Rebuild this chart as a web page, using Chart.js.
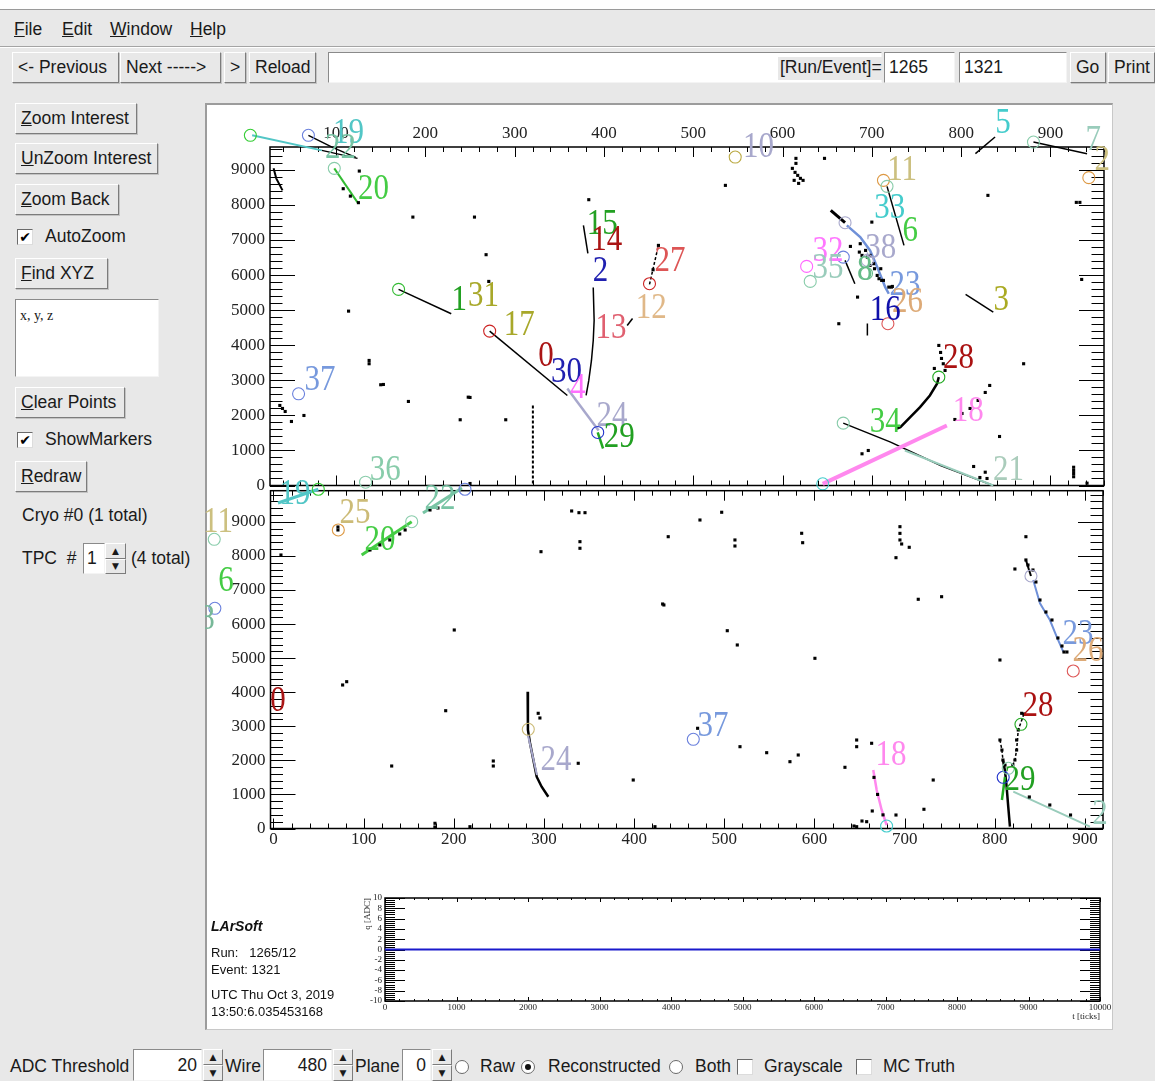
<!DOCTYPE html>
<html>
<head>
<meta charset="utf-8">
<title>LArSoft event display</title>
<script src="https://cdn.jsdelivr.net/npm/chart.js@4.4.1/dist/chart.umd.min.js"></script>
<style>
  html, body { margin: 0; padding: 0; }
  body { width: 1155px; height: 1081px; position: relative; overflow: hidden;
         background: #e8e8e8; font-family: "Liberation Sans", Arial, sans-serif; font-size: 17.5px; color: #1a1a1a; }
  .abs { position: absolute; }
  .txt { position: absolute; white-space: pre; line-height: 1; }
  .btn { position: absolute; box-sizing: border-box; height: 31px; background: #e8e8e8;
         border: 1px solid; border-color: #fff #7c7c7c #7c7c7c #fff; box-shadow: 1px 1px 0 #c4c4c4;
         display: flex; align-items: center; padding: 0 5px; white-space: pre; }
  .field { position: absolute; box-sizing: border-box; background: #fff; border: 1px solid;
           border-color: #8a8a8a #f4f4f4 #f4f4f4 #8a8a8a; display: flex; align-items: center; padding: 0 4px; white-space: pre; }
  .chk { position: absolute; box-sizing: border-box; width: 16px; height: 16px; background: #fff; border: 1px solid;
         border-color: #6a6a6a #dcdcdc #dcdcdc #6a6a6a; font: bold 14px "DejaVu Sans"; line-height: 14px; text-align: center; color: #000; }
  .radio { position: absolute; box-sizing: border-box; width: 14px; height: 14px; border-radius: 50%; background: #fff;
           border: 1px solid #6a6a6a; }
  .radio.on::after { content: ""; position: absolute; left: 3px; top: 3px; width: 6px; height: 6px; border-radius: 50%; background: #111; }
  .spin { position: absolute; box-sizing: border-box; display: flex; flex-direction: column; font: 9px "DejaVu Sans"; }
  .spin span { flex: 1; display: flex; align-items: center; justify-content: center; border: 1px solid;
               border-color: #fff #7c7c7c #7c7c7c #fff; background: #e8e8e8; }
  #pad { position: absolute; left: 205px; top: 103px; width: 908px; height: 927px; box-sizing: border-box;
         background: #fff; border-left: 2px solid #9c9c9c; border-top: 2px solid #9c9c9c; border-right: 1px solid #c8c8c8; border-bottom: 1px solid #c8c8c8; }
  canvas { position: absolute; left: 205px; top: 103px; }
  .info { position: absolute; left: 211px; white-space: pre; line-height: 1; font-size: 13px; color: #111; }
</style>
</head>
<body>

<!-- menu + navigation -->
<div class="abs" style="left:0;top:0;width:1155px;height:9px;background:#fff;border-bottom:1px solid #9a9a9a"></div>
<div class="txt" style="left:14px;top:21px"><u>F</u>ile</div>
<div class="txt" style="left:62px;top:21px"><u>E</u>dit</div>
<div class="txt" style="left:110px;top:21px"><u>W</u>indow</div>
<div class="txt" style="left:190px;top:21px"><u>H</u>elp</div>
<div class="abs" style="left:0;top:46px;width:1155px;border-top:1px solid #a4a4a4;border-bottom:1px solid #fff"></div>

<div class="btn" style="left:12px;top:52px;width:107px">&lt;- Previous</div>
<div class="btn" style="left:120px;top:52px;width:101px">Next -----&gt;</div>
<div class="btn" style="left:224px;top:52px;width:22px">&gt;</div>
<div class="btn" style="left:249px;top:52px;width:67px">Reload</div>
<div class="field" style="left:328px;top:52px;width:554px;height:31px"></div>
<div class="txt" style="left:778px;top:57px;height:21px;padding:2px 2px 0 2px;background:#e8e8e8">[Run/Event]=</div>
<div class="field" style="left:884px;top:52px;width:71px;height:31px">1265</div>
<div class="field" style="left:959px;top:52px;width:108px;height:31px">1321</div>
<div class="btn" style="left:1070px;top:52px;width:36px">Go</div>
<div class="btn" style="left:1108px;top:52px;width:47px">Print</div>

<!-- left control panel -->
<div class="btn" style="left:15px;top:103px;width:122px"><u>Z</u>oom Interest</div>
<div class="btn" style="left:15px;top:143px;width:143px"><u>U</u>nZoom Interest</div>
<div class="btn" style="left:15px;top:184px;width:104px"><u>Z</u>oom Back</div>
<div class="chk" style="left:17px;top:229px">✔</div>
<div class="txt" style="left:45px;top:228px">AutoZoom</div>
<div class="btn" style="left:15px;top:258px;width:93px"><u>F</u>ind XYZ</div>
<div class="field" style="left:15px;top:299px;width:144px;height:78px;align-items:flex-start;padding-top:8px;font:14px 'Liberation Serif',serif">x, y, z</div>
<div class="btn" style="left:15px;top:387px;width:110px"><u>C</u>lear Points</div>
<div class="chk" style="left:17px;top:432px">✔</div>
<div class="txt" style="left:45px;top:431px">ShowMarkers</div>
<div class="btn" style="left:15px;top:461px;width:72px"><u>R</u>edraw</div>
<div class="txt" style="left:22px;top:507px">Cryo #0 (1 total)</div>
<div class="txt" style="left:22px;top:550px">TPC  #</div>
<div class="field" style="left:83px;top:543px;width:22px;height:31px;padding:0 3px">1</div>
<div class="spin" style="left:105px;top:543px;width:21px;height:31px"><span>▲</span><span>▼</span></div>
<div class="txt" style="left:131px;top:550px">(4 total)</div>

<!-- drawing pad -->
<div id="pad"></div>
<canvas id="cTop" width="908" height="927"></canvas>
<canvas id="cBot" width="908" height="927"></canvas>
<canvas id="cWave" width="908" height="927"></canvas>

<div class="info" style="top:919px;font-weight:bold;font-style:italic;font-size:14px">LArSoft</div>
<div class="info" style="top:946px">Run:   1265/12</div>
<div class="info" style="top:963px">Event: 1321</div>
<div class="info" style="top:988px">UTC Thu Oct 3, 2019</div>
<div class="info" style="top:1005px">13:50:6.035453168</div>

<!-- bottom bar -->
<div class="txt" style="left:10px;top:1058px">ADC Threshold</div>
<div class="field" style="left:133px;top:1049px;width:69px;height:32px;justify-content:flex-end">20</div>
<div class="spin" style="left:203px;top:1049px;width:20px;height:32px"><span>▲</span><span>▼</span></div>
<div class="txt" style="left:225px;top:1058px">Wire</div>
<div class="field" style="left:263px;top:1049px;width:69px;height:32px;justify-content:flex-end">480</div>
<div class="spin" style="left:333px;top:1049px;width:20px;height:32px"><span>▲</span><span>▼</span></div>
<div class="txt" style="left:355px;top:1058px">Plane</div>
<div class="field" style="left:402px;top:1049px;width:29px;height:32px;justify-content:flex-end">0</div>
<div class="spin" style="left:432px;top:1049px;width:20px;height:32px"><span>▲</span><span>▼</span></div>
<div class="radio" style="left:455px;top:1060px"></div>
<div class="txt" style="left:480px;top:1058px">Raw</div>
<div class="radio on" style="left:521px;top:1060px"></div>
<div class="txt" style="left:548px;top:1058px">Reconstructed</div>
<div class="radio" style="left:669px;top:1060px"></div>
<div class="txt" style="left:695px;top:1058px">Both</div>
<div class="chk" style="left:737px;top:1059px"></div>
<div class="txt" style="left:764px;top:1058px">Grayscale</div>
<div class="chk" style="left:856px;top:1059px"></div>
<div class="txt" style="left:883px;top:1058px">MC Truth</div>

<script>
// ---------------- axis tick labels ----------------
const topWireTicks = [100, 200, 300, 400, 500, 600, 700, 800, 900];
const topTimeTicks = [0, 1000, 2000, 3000, 4000, 5000, 6000, 7000, 8000, 9000];
const botWireTicks = [0, 100, 200, 300, 400, 500, 600, 700, 800, 900];
const botTimeTicks = [0, 1000, 2000, 3000, 4000, 5000, 6000, 7000, 8000, 9000];
const waveTimeTicks = [0, 1000, 2000, 3000, 4000, 5000, 6000, 7000, 8000, 9000, 10000];
const waveAdcTicks = [-10, -8, -6, -4, -2, 0, 2, 4, 6, 8, 10];

// ---------------- upper view (wire vs tick) ----------------
const topHitWire = [126, 186, 255, 268, 271, 114, 137, 137, 150, 153, 181, 248, 250, 239, 290, 64, 50, 383, 250, 536,
                    647, 615, 615, 611, 614, 617, 620, 623, 618, 613, 830, 933, 929, 935, 870, 843, 689, 696, 814, 827,
                    821, 829, 926, 926, 926, 926, 941, 676, 687, 693, 698, 702, 710, 708, 711, 719, 723, 700, 684, 663,
                    686, 689, 695, 698, 703, 706, 713, 722, 793, 801, 810, 819, 827, 832, 775, 777, 778, 780, 770, 782,
                    108, 116, 125, 37, 40, 43, 461, 455];
const topHitTick = [8964, 7652, 7652, 6580, 5818, 4971, 3471, 3565, 2872, 2880, 2396, 2518, 2510, 1874, 1874, 1996, 1825, 8148, 57, 8556,
                    9326, 9326, 9183, 9041, 8927, 8841, 8756, 8699, 8613, 8699, 8271, 8071, 8071, 5875, 3471, 1397, 904, 998, 542, 379,
                    228, 200, 520, 430, 340, 250, 66, 6816, 6893, 6702, 6560, 6323, 6180, 5895, 5847, 5656, 5675, 7509, 5371, 4612,
                    6654, 6560, 6511, 6274, 6180, 5989, 5847, 5656, 1882, 2053, 2196, 2424, 2652, 2852, 3993, 3793, 3622, 3471, 3337, 3280,
                    8461, 8250, 8063, 2282, 2196, 2110, 6845, 6150];

// reconstructed tracks, upper view
const topTrkA_W = [30, 33, 40],          topTrkA_T = [9041, 8756, 8413];
const topTrk19_W = [6, 84],              topTrk19_T = [9983, 9554];
const topTrk19b_W = [84, 124],           topTrk19b_T = [9554, 9326];
const topTrk22_W = [69, 96, 122],        topTrk22_T = [9983, 9640, 9355];
const topTrk20_W = [98, 124],            topTrk20_T = [9041, 8071];
const topTrk131_W = [170, 229],          topTrk131_T = [5590, 4897];
const topTrk17_W = [272, 359],           topTrk17_T = [4401, 2567];
const topTrk24_W = [359, 394],           topTrk24_T = [2766, 1569];
const topTrk29_W = [393, 399],           topTrk29_T = [1512, 1055];
const topTrk2_W = [388, 389, 388, 386, 383, 380], topTrk2_T = [5647, 4706, 4135, 3565, 2995, 2567];
const topTrk14_W = [377, 382],           topTrk14_T = [7415, 6617];
const topTrk27_W = [451, 461],           topTrk27_T = [5733, 6845];
const topTrk12_W = [426, 432],           topTrk12_T = [4563, 4763];
const topTrk6_W = [717, 736],            topTrk6_T = [8528, 6845];
const topTrk5_W = [816, 838],            topTrk5_T = [9460, 9934];
const topTrk7_W = [881, 941],            topTrk7_T = [9791, 9460];
const topTrk3_W = [805, 836],            topTrk3_T = [5447, 4943];
const topTrk38_W = [654, 670],           topTrk38_T = [7843, 7492];
const topTrk23_W = [672, 687, 698, 706, 715, 719], topTrk23_T = [7415, 7081, 6702, 6226, 5656, 5467];
const topTrk8_W = [670, 681],            topTrk8_T = [6417, 5752];
const topTrk16_W = [695, 695],           topTrk16_T = [4620, 4278];
const topTrk28_W = [775, 773, 765, 754, 743, 732, 728], topTrk28_T = [3089, 2900, 2567, 2233, 1948, 1663, 1626];
const topTrk34_W = [668, 721, 777, 836], topTrk34_T = [1777, 1235, 570, 0];
const topTrk21_W = [737, 836],           topTrk21_T = [998, 0];
const topTrk18_W = [645, 784],           topTrk18_T = [48, 1711];
const topTrkCol_W = [320.4, 320.4],      topTrkCol_T = [2282, 0];

// vertex markers, upper view
const topVtxWire = [4, 69, 98, 170, 272, 393, 451, 547, 713, 717, 881, 943, 670, 627, 631, 668, 695, 694, 718, 775, 668, 645, 133, 58];
const topVtxTick = [9983, 9983, 9041, 5590, 4401, 1512, 5752, 9363, 8699, 8528, 9791, 8776, 7492, 6246, 5818, 6511, 6417, 6046, 4612, 3089, 1777, 48, 94, 2615];

// track id labels, upper view
const topLblText = ['19', '22', '20', '1', '31', '17', '0', '30', '4', '24', '29', '2', '15', '14', '13', '27', '12', '10', '11',
                    '33', '6', '5', '7', '2', '38', '32', '35', '8', '23', '26', '16', '3', '28', '34', '18', '21', '36', '37'];
const topLblWire = [114, 105, 142, 238, 265, 305, 335, 358, 371, 409, 417, 396, 398, 403, 408, 474, 453, 573, 734,
                    720, 743, 847, 948, 958, 710, 651, 651, 692, 737, 740, 715, 845, 797, 715, 808, 853, 155, 82];
const topLblTick = [10039, 9611, 8442, 5276, 5390, 4563, 3679, 3223, 2766, 1968, 1369, 6103, 7444, 6987, 4478, 6388, 5048, 9640, 8984,
                    7900, 7244, 10324, 9839, 9269, 6759, 6674, 6189, 6132, 5704, 5219, 4991, 5276, 3622, 1797, 2110, 428, 428, 2995];

// ---------------- lower view ----------------
const botHitWire = [8.3, 71.5, 71.5, 330.7, 338.8, 345.5, 296.7, 339.9, 339.9, 200.5, 76.7, 81.2, 191, 131.1, 243.8, 243.8, 338, 293.6, 295.5, 179.1,
                    179, 217.9, 437.8, 473, 497.1, 511.8, 511.8, 585.8, 586.9, 694.8, 694.8, 694.8, 696.7, 705.1, 690.4, 431.6, 433, 503.3, 514.4, 600.5,
                    715.1, 741, 834.5, 822.3, 805.7, 399, 470.4, 517.4, 547, 572.8, 582, 633.8, 646.8, 646.8, 663.4, 731.7, 721.4, 690.4, 664.1, 657.9,
                    652.7, 646.8, 643.8, 423.1, 107, 118, 129, 140, 146, 173.6, 182.4, 834.5, 836.8, 842.3, 845.6, 850.1, 856.7, 863.4, 870, 874.5,
                    876.7, 880, 832.3, 829.8, 826, 824.2, 824.2, 822.3, 820, 805.7, 807.9, 809, 811.3, 838.3, 861, 884, 666, 670, 676];
const botHitTick = [8027, 8849, 8761, 9319, 9269, 9269, 8124, 8418, 8224, 5826, 4212, 4309, 3457, 1834, 1981, 1834, 1914, 3381, 3243, 153,
                    44, 53, 8564, 9054, 9281, 8468, 8291, 8664, 8388, 8858, 8662, 8468, 8350, 8253, 7948, 6589, 6560, 5805, 5386, 4995,
                    6727, 6803, 8564, 7616, 4945, 1423, 2941, 2401, 2225, 1961, 2157, 1796, 2597, 2401, 2501, 1423, 564, 396, 514, 200,
                    220, 53, 73, 53, 8174, 8321, 8468, 8644, 8761, 9348, 9407, 7881, 7733, 7587, 7235, 6706, 6354, 6119, 5591, 5356,
                    5180, 5180, 3361, 3381, 2891, 2597, 2303, 2010, 1863, 2597, 2303, 2010, 1863, 925, 690, 396, 1500, 1000, 400];

const botTrk19_W = [5, 49.7],            botTrk19_T = [9553, 9956];
const botTrk20_W = [97.8, 153.3],        botTrk20_T = [8027, 9004];
const botTrk22_W = [165.8, 209.1],       botTrk22_T = [9260, 9994];
const botTrk24k_W = [281.9, 282.2, 284.5, 291.9, 297.4, 304.8], botTrk24k_T = [4015, 2891, 2509, 1520, 1227, 933];
const botTrk24_W = [282.2, 292.2],       botTrk24_T = [2744, 1570];
const botTrk18_W = [665.2, 669, 674.5, 680], botTrk18_T = [1717, 1130, 543, 103];
const botTrk23k_W = [834.5, 840.1],      botTrk23k_T = [7881, 7411];
const botTrk23_W = [842.6, 850.1, 861.1, 868.6, 875.9], botTrk23_T = [7294, 6610, 6119, 5629, 5189];
const botTrk29k_W = [809, 811.3, 813.1, 814.9, 816.8], botTrk29k_T = [2010, 1700, 1227, 640, 53];
const botTrk29_W = [811.3, 807.9],       botTrk29_T = [1511, 836];
const botTrk2_W = [820.5, 905.5],        botTrk2_T = [1080, 53];
const botTrk28_W = [832.3, 826, 824.2, 822.3, 820], botTrk28_T = [3361, 2891, 2303, 2010, 1863];
const botTrk28l_W = [805.7, 807.9, 809, 811.3],    botTrk28l_T = [2597, 2303, 2010, 1863];

const botVtxWire = [49.7, 153.3, 212.4, 71.9, -65.7, -65, 282.6, 465.6, 680, 840.1, 887, 829, 809.3, 814.9];
const botVtxTick = [9956, 9004, 9956, 8761, 8488, 6463, 2912, 2618, 73, 7411, 4623, 3058, 1503, 1767];

const botLblText = ['19', '11', '6', '8', '0', '25', '20', '22', '24', '37', '18', '23', '26', '28', '29', '2'];
const botLblWire = [23.8, -61.5, -52.7, -73.8, 5, 90.4, 118.1, 184.7, 313.3, 487.4, 684.8, 892.2, 903.3, 847.8, 827.9, 916.6];
const botLblTick = [9788, 8966, 7235, 6119, 3713, 9231, 8438, 9642, 1981, 2979, 2128, 5679, 5180, 3566, 1394, 396];

// ---------------- wire waveform ----------------
const waveTicks = [0, 10000];
const waveADC = [0, 0];

// ---------------- styles ----------------
const C = {
    cyan: '#52c6c6', aqua: '#78c4a4', green: '#44cc44', dkgreen: '#22a022', olive: '#a8a82a', dkred: '#aa1515',
    dkblue: '#2020b0', lav: '#a8a8cc', magenta: '#ff70ff', salmon: '#e06070', red: '#dd5555', tan: '#e0b888',
    khaki: '#ccc080', teal: '#99ccbb', corn: '#7799dd', tan2: '#ddaa77', navy: '#1010aa', pink: '#ff88ee',
    mint: '#88ccaa', orange: '#dd9944', blue: '#6a80dd', vblue: '#2233cc', vgreen: '#33cc33', sea: '#66bb88'
};
const topVtxColor = [C.vgreen, C.blue, C.mint, '#33bb33', '#cc2222', C.vblue, '#cc2222', '#bbaa44', C.orange, C.mint, C.mint, C.orange,
                     C.lav, '#ff66ff', C.mint, C.blue, C.lav, C.sea, C.red, '#22aa22', C.mint, '#44cccc', C.mint, C.blue];
const topLblColor = [C.cyan, C.aqua, C.green, C.dkgreen, C.olive, C.olive, C.dkred, C.dkblue, C.magenta, C.lav, C.dkgreen, C.dkblue,
                     C.dkgreen, C.dkred, C.salmon, C.red, C.tan, C.lav, C.khaki, '#44cccc', C.green, '#44cccc', C.teal, C.khaki,
                     C.lav, '#ff77ff', C.teal, C.sea, C.corn, C.tan2, C.navy, '#aaaa22', '#aa1111', C.green, C.pink, '#aaccbb', C.mint, C.corn];
const botVtxColor = [C.vgreen, C.mint, C.blue, C.orange, C.mint, C.blue, '#ccbb77', C.blue, '#44cccc', C.lav, C.red, '#22aa22', C.vblue, C.mint];
const botLblColor = [C.cyan, C.khaki, C.green, '#77b898', C.dkred, '#ccbb77', C.green, C.aqua, C.lav, C.corn, C.pink, C.corn, C.tan2,
                     '#aa1111', C.dkgreen, C.teal];

const serif = '"Liberation Serif", "Times New Roman", serif';

function pts(xs, ys) {
    return xs.map((x, i) => ({ x: x, y: ys[i] }));
}

function track(xs, ys, color, width, dash) {
    return { type: 'scatter', data: pts(xs, ys), showLine: true, borderColor: color, borderWidth: width,
             borderDash: dash || [], pointRadius: 0, clip: false, tension: 0 };
}

function hits(xs, ys) {
    return { type: 'scatter', data: pts(xs, ys), pointStyle: 'rect', pointRadius: 2.2, pointBackgroundColor: '#000',
             pointBorderWidth: 0, clip: false };
}

function vertices(xs, ys, colors) {
    return { type: 'scatter', data: pts(xs, ys), pointStyle: 'circle', pointRadius: 6, pointBorderWidth: 1.1,
             pointBorderColor: colors, pointBackgroundColor: 'rgba(0,0,0,0)', clip: false };
}

// axis box of fixed size so the frame lands where ROOT put it
function fixSize(sz) {
    return function (scale) {
        if (scale.isHorizontal()) scale.height = sz; else scale.width = sz;
        scale.paddingLeft = scale.paddingRight = scale.paddingTop = scale.paddingBottom = 0;
    };
}

function axis(pos, min, max, tickValues, size, pad, fontSize) {
    return {
        type: 'linear', position: pos, min: min, max: max, afterFit: fixSize(size),
        afterBuildTicks: scale => { scale.ticks = tickValues.map(v => ({ value: v })); },
        grid: { display: false, drawTicks: false }, border: { display: false },
        ticks: { autoSkip: false, maxRotation: 0, padding: pad,
                 font: { family: serif, size: fontSize }, color: '#222', callback: v => String(v) }
    };
}

// ROOT style frame with ticks drawn inward on all four sides;
// markers may also sit outside the frame, as in the ROOT display
function framePlugin(o) {
    return {
        id: 'rootFrame',
        beforeDatasetsDraw(chart) {
            const { ctx, chartArea: a, scales: { x, y } } = chart;
            ctx.save();
            ctx.strokeStyle = '#000';
            ctx.lineWidth = 1;
            ctx.beginPath();
            const xr = Math.round(o.xMajor / o.xMinor), yr = Math.round(o.yMajor / o.yMinor);
            for (let k = Math.ceil(x.min / o.xMinor); k * o.xMinor <= x.max; k++) {
                const len = (k % xr === 0) ? o.xLen : o.xLen / 2;
                const px = Math.round(x.getPixelForValue(k * o.xMinor)) + 0.5;
                ctx.moveTo(px, a.bottom); ctx.lineTo(px, a.bottom - len);
                ctx.moveTo(px, a.top); ctx.lineTo(px, a.top + len);
            }
            for (let k = Math.ceil(y.min / o.yMinor); k * o.yMinor <= y.max; k++) {
                const len = (k % yr === 0) ? o.yLen : o.yLen / 2;
                const py = Math.round(y.getPixelForValue(k * o.yMinor)) + 0.5;
                ctx.moveTo(a.left, py); ctx.lineTo(a.left + len, py);
                ctx.moveTo(a.right, py); ctx.lineTo(a.right - len, py);
            }
            ctx.stroke();
            ctx.lineWidth = 1.5;
            ctx.strokeRect(a.left, a.top, a.right - a.left, a.bottom - a.top);
            ctx.restore();
            chart._frameArea = a;
            chart.chartArea = { left: 0, top: 0, right: chart.width, bottom: chart.height, width: chart.width, height: chart.height };
        },
        afterDatasetsDraw(chart) {
            if (chart._frameArea) chart.chartArea = chart._frameArea;
        }
    };
}

function labelPlugin(texts, xs, ys, colors) {
    return {
        id: 'trackLabels',
        afterDatasetsDraw(chart) {
            const { ctx, scales: { x, y } } = chart;
            ctx.save();
            ctx.font = '31px ' + serif;
            ctx.textAlign = 'center';
            ctx.textBaseline = 'middle';
            texts.forEach((t, i) => {
                ctx.save();
                ctx.translate(x.getPixelForValue(xs[i]), y.getPixelForValue(ys[i]));
                ctx.scale(1, 1.15);
                ctx.fillStyle = colors[i];
                ctx.fillText(t, 0, 0);
                ctx.restore();
            });
            ctx.restore();
        }
    };
}

const common = {
    responsive: false, animation: false, events: [],
    plugins: { legend: { display: false }, tooltip: { enabled: false } }
};

// upper view
new Chart(document.getElementById('cTop'), {
    type: 'scatter',
    data: { datasets: [
        vertices(topVtxWire, topVtxTick, topVtxColor),
        hits(topHitWire, topHitTick),
        track(topTrk19_W, topTrk19_T, C.cyan, 2),
        track(topTrk20_W, topTrk20_T, '#33bb33', 2),
        track(topTrk24_W, topTrk24_T, C.lav, 2.5),
        track(topTrk29_W, topTrk29_T, '#22aa22', 2.5),
        track(topTrk23_W, topTrk23_T, '#6f90d8', 2.5),
        track(topTrk21_W, topTrk21_T, C.teal, 2),
        track(topTrk18_W, topTrk18_T, C.pink, 4),
        track(topTrkA_W, topTrkA_T, '#000', 2),
        track(topTrk19b_W, topTrk19b_T, '#000', 1.5),
        track(topTrk22_W, topTrk22_T, '#000', 1.5),
        track(topTrk131_W, topTrk131_T, '#000', 1.5),
        track(topTrk17_W, topTrk17_T, '#000', 1.5),
        track(topTrk2_W, topTrk2_T, '#000', 1.5),
        track(topTrk14_W, topTrk14_T, '#000', 1.5),
        track(topTrk27_W, topTrk27_T, '#000', 1.5, [3, 2]),
        track(topTrk12_W, topTrk12_T, '#000', 1.5),
        track(topTrk6_W, topTrk6_T, '#000', 1.5),
        track(topTrk5_W, topTrk5_T, '#000', 1.5),
        track(topTrk7_W, topTrk7_T, '#000', 1.5),
        track(topTrk3_W, topTrk3_T, '#000', 1.5),
        track(topTrk38_W, topTrk38_T, '#000', 3),
        track(topTrk8_W, topTrk8_T, '#000', 1.5),
        track(topTrk16_W, topTrk16_T, '#000', 1.5),
        track(topTrk28_W, topTrk28_T, '#000', 2.5),
        track(topTrk34_W, topTrk34_T, '#000', 1.5),
        track(topTrkCol_W, topTrkCol_T, '#000', 2, [3, 2])
    ] },
    options: Object.assign({}, common, {
        layout: { padding: { left: 0, right: 9, top: 0, bottom: 544.5 } },
        scales: {
            x: axis('top', 26, 960, topWireTicks, 44, 3, 17),
            y: axis('left', 0, 9650, topTimeTicks, 65, 5, 17)
        }
    }),
    plugins: [framePlugin({ xMajor: 100, xMinor: 20, xLen: 10, yMajor: 1000, yMinor: 200, yLen: 25 }),
              labelPlugin(topLblText, topLblWire, topLblTick, topLblColor)]
});

// lower view
new Chart(document.getElementById('cBot'), {
    type: 'scatter',
    data: { datasets: [
        vertices(botVtxWire, botVtxTick, botVtxColor),
        hits(botHitWire, botHitTick),
        track(botTrk19_W, botTrk19_T, C.cyan, 3),
        track(botTrk20_W, botTrk20_T, C.green, 3),
        track(botTrk22_W, botTrk22_T, C.aqua, 3),
        track(botTrk24_W, botTrk24_T, C.lav, 2),
        track(botTrk18_W, botTrk18_T, C.pink, 2.5),
        track(botTrk23_W, botTrk23_T, '#6f90d8', 2),
        track(botTrk29_W, botTrk29_T, '#22aa22', 2.5),
        track(botTrk2_W, botTrk2_T, C.teal, 2),
        track(botTrk24k_W, botTrk24k_T, '#000', 2.5),
        track(botTrk23k_W, botTrk23k_T, '#000', 2),
        track(botTrk29k_W, botTrk29k_T, '#000', 2.5),
        track(botTrk28_W, botTrk28_T, '#000', 1.5, [3, 2]),
        track(botTrk28l_W, botTrk28l_T, '#000', 1.5, [3, 2])
    ] },
    options: Object.assign({}, common, {
        layout: { padding: { left: 0.5, right: 10, top: 387.7, bottom: 181.5 } },
        scales: {
            x: axis('bottom', -3.3, 920, botWireTicks, 20, 1, 17),
            y: axis('left', 0, 9914, botTimeTicks, 65, 5, 17)
        }
    }),
    plugins: [framePlugin({ xMajor: 100, xMinor: 20, xLen: 10, yMajor: 1000, yMinor: 200, yLen: 25 }),
              labelPlugin(botLblText, botLblWire, botLblTick, botLblColor)]
});

// waveform of the selected wire
new Chart(document.getElementById('cWave'), {
    type: 'scatter',
    data: { datasets: [ track(waveTicks, waveADC, '#1a1acc', 2) ] },
    options: Object.assign({}, common, {
        layout: { padding: { left: 150, right: 13, top: 795, bottom: 15 } },
        scales: {
            x: axis('bottom', 0, 10000, waveTimeTicks, 14, 1, 9),
            y: axis('left', -10, 10, waveAdcTicks, 30, 3, 9)
        }
    }),
    plugins: [framePlugin({ xMajor: 1000, xMinor: 200, xLen: 4, yMajor: 2, yMinor: 0.4, yLen: 20 }), {
        id: 'waveTitles',
        afterDraw(chart) {
            const { ctx, chartArea: a } = chart;
            ctx.save();
            ctx.fillStyle = '#222';
            ctx.font = '9px ' + serif;
            ctx.textAlign = 'right';
            ctx.textBaseline = 'middle';
            ctx.fillText('t [ticks]', a.right, a.bottom + 16);
            ctx.translate(a.left - 17, a.top);
            ctx.rotate(-Math.PI / 2);
            ctx.fillText('q [ADC]', 0, 0);
            ctx.restore();
        }
    }]
});
</script>
</body>
</html>
